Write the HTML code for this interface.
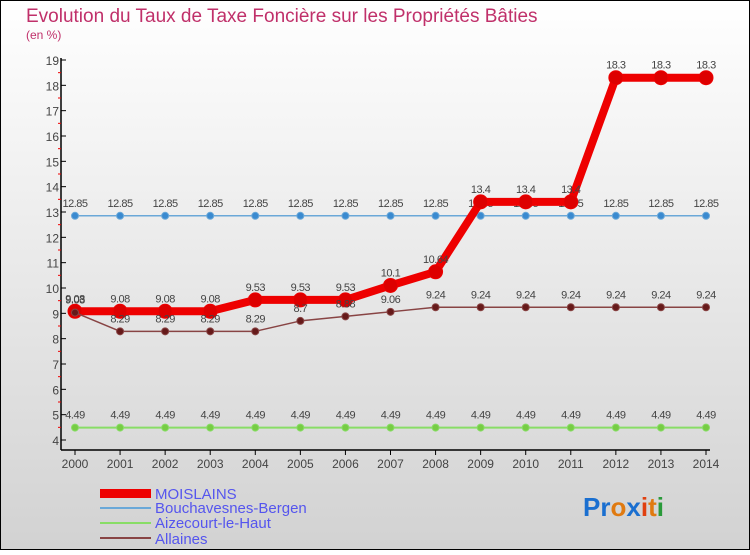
<!DOCTYPE html>
<html><head><meta charset="utf-8"><style>
html,body{margin:0;padding:0}
body{width:750px;height:550px;overflow:hidden;font-family:"Liberation Sans",sans-serif}
</style></head><body>
<svg id="chart" width="750" height="550" xmlns="http://www.w3.org/2000/svg">
<defs><linearGradient id="bg" x1="0" y1="0" x2="0" y2="1"><stop offset="0" stop-color="#ffffff"/><stop offset="1" stop-color="#d2d2d2"/></linearGradient></defs>
<rect x="0.5" y="0.5" width="749" height="549" fill="url(#bg)" stroke="#000"/>
<text x="26" y="22" font-size="19" fill="#c0306a">Evolution du Taux de Taxe Foncière sur les Propriétés Bâties</text>
<text x="26" y="39" font-size="12" fill="#c0306a">(en %)</text>
<g id="axes"></g>
<g id="series"></g>
<g>
<rect x="100" y="489" width="51" height="9" fill="#e00"/>
<text x="155" y="499" font-size="15" fill="#5555ee">MOISLAINS</text>
<line x1="100" y1="508" x2="151" y2="508" stroke="#6aa8d8" stroke-width="2"/>
<text x="155" y="513" font-size="15" fill="#5555ee">Bouchavesnes-Bergen</text>
<line x1="100" y1="523" x2="151" y2="523" stroke="#88dd66" stroke-width="2"/>
<text x="155" y="528" font-size="15" fill="#5555ee">Aizecourt-le-Haut</text>
<line x1="100" y1="538" x2="151" y2="538" stroke="#884444" stroke-width="2"/>
<text x="155" y="544" font-size="15" fill="#5555ee">Allaines</text>
</g>
<g font-size="26" font-weight="bold">
<text x="583" y="516"><tspan fill="#1a6fd0">Pr</tspan><tspan fill="#e07a10">o</tspan><tspan fill="#1a6fd0">x</tspan><tspan fill="#e04010">i</tspan><tspan fill="#e07a10">t</tspan><tspan fill="#2a9a3a">i</tspan></text>
</g>
</svg>
<script>
const years=["2000","2001","2002","2003","2004","2005","2006","2007","2008","2009","2010","2011","2012","2013","2014"];
const moislains=[9.08,9.08,9.08,9.08,9.53,9.53,9.53,10.1,10.64,13.4,13.4,13.4,18.3,18.3,18.3];
const bouchavesnes=[12.85,12.85,12.85,12.85,12.85,12.85,12.85,12.85,12.85,12.85,12.85,12.85,12.85,12.85,12.85];
const aizecourt=[4.49,4.49,4.49,4.49,4.49,4.49,4.49,4.49,4.49,4.49,4.49,4.49,4.49,4.49,4.49];
const allaines=[9.03,8.29,8.29,8.29,8.29,8.7,8.88,9.06,9.24,9.24,9.24,9.24,9.24,9.24,9.24];
const yTicks=[4,5,6,7,8,9,10,11,12,13,14,15,16,17,18,19];
const NS="http://www.w3.org/2000/svg";
const X=i=>75+i*(706-75)/(years.length-1);
const Y=v=>440-(v-4)*(380/15);
function mk(tag,attrs,parent){const e=document.createElementNS(NS,tag);for(const k in attrs)e.setAttribute(k,attrs[k]);parent.appendChild(e);return e;}
const ax=document.getElementById('axes');
let a=mk('line',{x1:61,y1:58,x2:61,y2:450,stroke:'#000','stroke-width':1.5},ax);


a=mk('line',{x1:61,y1:450,x2:710,y2:450,stroke:'#000','stroke-width':1.5},ax);


yTicks.forEach(v=>{
 mk('line',{x1:61,y1:Y(v),x2:66,y2:Y(v),stroke:'#000'},ax);
 if(v<19) mk('line',{x1:58,y1:Y(v+0.5),x2:61,y2:Y(v+0.5),stroke:'#e00'},ax);
 const t=mk('text',{x:59,y:Y(v)+5,'font-size':12,fill:'#444','text-anchor':'end'},ax);t.textContent=v;
 
 
});
years.forEach((y,i)=>{
 mk('line',{x1:X(i),y1:450,x2:X(i),y2:455,stroke:'#000'},ax);
 const t=mk('text',{x:X(i),y:468,'font-size':12,fill:'#444','text-anchor':'middle'},ax);t.textContent=y;
 
 
});
const sg=document.getElementById('series');
function series(name,vals,color,w,r,dot){
 const g=mk('g',{},sg);
 
 
 mk('polyline',{points:vals.map((v,i)=>X(i)+','+Y(v)).join(' '),fill:'none',stroke:color,'stroke-width':w,'stroke-linejoin':'round'},g);
 vals.forEach((v,i)=>{
  const c=mk('circle',{cx:X(i),cy:Y(v),r:r,fill:dot,stroke:color,'stroke-width':1},g);
  
  
  const t=mk('text',{x:X(i),y:Y(v)-9,'font-size':11,fill:'#444','text-anchor':'middle','letter-spacing':'-0.5'},g);t.textContent=v;
  
  
 });
}
series('aizecourt',aizecourt,'#88dd66',2,3.5,'#77cc44');
series('bouchavesnes',bouchavesnes,'#6aa8d8',1.5,3.5,'#3a8ad0');
series('moislains',moislains,'#ee0000',8,7,'#dd0000');
series('allaines',allaines,'#884444',1.5,3.5,'#661a1a');
</script>
</body></html>
